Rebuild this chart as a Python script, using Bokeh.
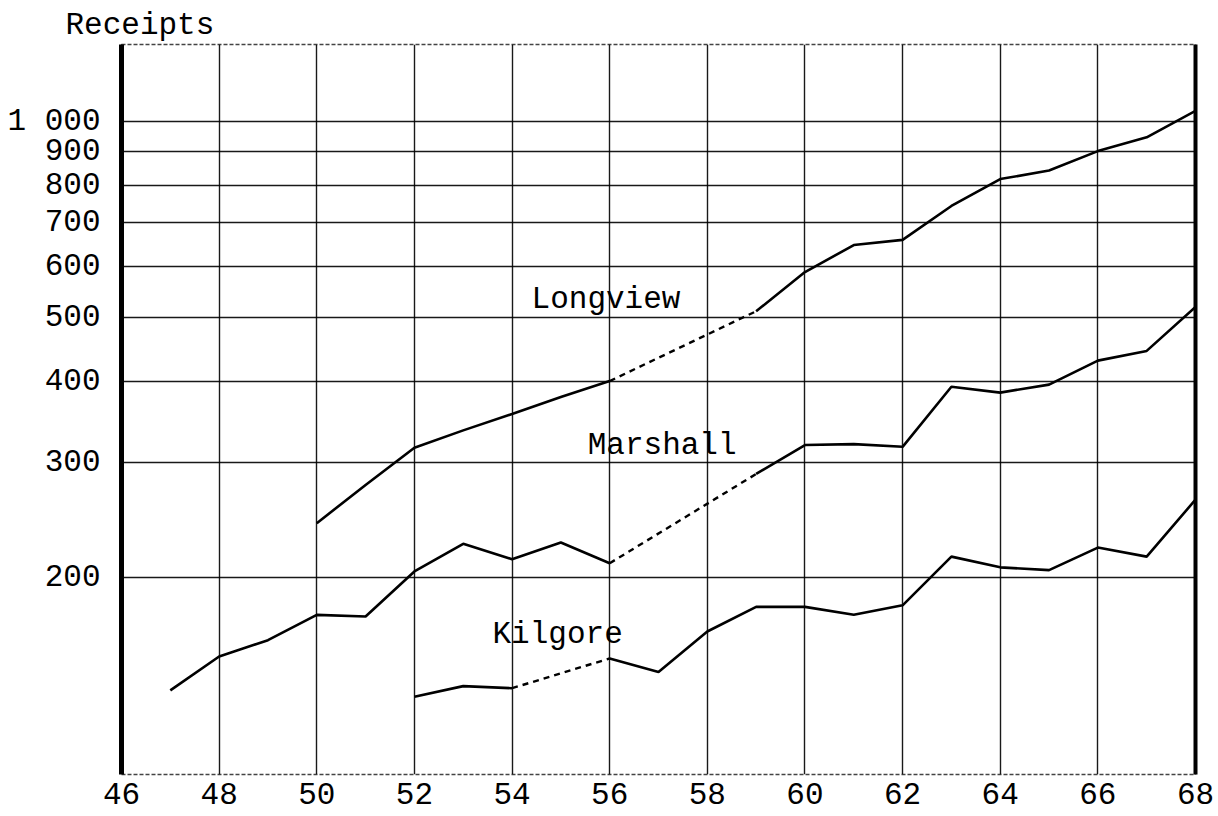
import numpy as np
from bokeh.plotting import figure
from bokeh.models import Range1d, FixedTicker, LogAxis
from bokeh.core.properties import value
from bokeh.embed import file_html
from bokeh.resources import INLINE

# Annual receipts, 1947-1968 (NaN = no figure reported)
years = list(range(47, 69))
nan = np.nan
longview = [nan, nan, nan, 242, 277, 316, 336, 356, 378, 400, nan, nan,
            512, 588, 647, 659, 743, 817, 842, 902, 947, 1040]
marshall = [134, 151, 160, 175, 174, 204, 225, 213, 226, 210, nan, nan,
            288, 319, 320, 317, 392, 384, 395, 430, 445, 520]
kilgore = [nan, nan, nan, nan, nan, 131, 136, 135, nan, 150, 143, 165,
           180, 180, 175, 181, 215, 207, 205, 222, 215, 263]

x_ticks = list(range(46, 69, 2))
y_ticks = [200, 300, 400, 500, 600, 700, 800, 900, 1000]
y_tick_labels = ["200", "300", "400", "500", "600", "700", "800", "900", "1 000"]

series_names = ["Longview", "Marshall", "Kilgore"]

FONT = "Liberation Mono"
FSIZE = "31px"

p = figure(width=1218, height=816,
           x_range=Range1d(46, 68), y_range=Range1d(99.5, 1315),
           y_axis_type="log",
           output_backend="svg", toolbar_location=None,
           min_border_left=121, min_border_right=23,
           min_border_top=44, min_border_bottom=42)

p.background_fill_color = "white"
p.border_fill_color = "white"

# title used as the vertical-axis caption
p.title.text = "Receipts"
p.title.align = "left"
p.title.offset = -56
p.title.text_font = FONT
p.title.text_font_size = FSIZE
p.title.text_font_style = "normal"
p.title.text_color = "black"
p.title.standoff = 4

# axes: labels only, no ticks
for ax in (p.xaxis[0], p.yaxis[0]):
    ax.major_tick_line_color = None
    ax.minor_tick_line_color = None
    ax.major_label_text_font = FONT
    ax.major_label_text_font_size = FSIZE
    ax.major_label_text_color = "black"

p.xaxis.axis_line_color = None
p.xaxis.ticker = FixedTicker(ticks=x_ticks)
p.xaxis.major_label_standoff = 2

# heavy rule down the left edge of the frame
p.yaxis.axis_line_color = "black"
p.yaxis.axis_line_width = 5
p.yaxis.ticker = FixedTicker(ticks=y_ticks)
p.yaxis.major_label_overrides = {t: s for t, s in zip(y_ticks, y_tick_labels)}
p.yaxis.major_label_standoff = 15

# heavy rule down the right edge, no ticks or labels
right_rule = LogAxis(ticker=FixedTicker(ticks=[]),
                     axis_line_color="black", axis_line_width=4,
                     major_tick_line_color=None, minor_tick_line_color=None,
                     major_tick_out=0, minor_tick_out=0,
                     major_label_text_font_size="0px")
p.add_layout(right_rule, "right")

# grid
p.xgrid.ticker = FixedTicker(ticks=x_ticks[1:-1])
p.ygrid.ticker = FixedTicker(ticks=y_ticks)
for g in (p.xgrid[0], p.ygrid[0]):
    g.grid_line_color = "black"
    g.grid_line_width = 1.4
    g.grid_line_alpha = 0.9
    g.minor_grid_line_color = None

# thin dotted top and bottom of the frame
p.outline_line_color = "#444444"
p.outline_line_width = 1.5
p.outline_line_dash = "4 2"

# series: solid where reported, dashed across missing years
for vals in (longview, marshall, kilgore):
    arr = np.array(vals, dtype=float)
    p.line(years, arr, line_color="black", line_width=2.6)
    known = [i for i, v in enumerate(arr) if not np.isnan(v)]
    for a, b in zip(known[:-1], known[1:]):
        if b - a > 1:
            p.line([years[a], years[b]], [arr[a], arr[b]],
                   line_color="black", line_width=2.4, line_dash="6 5")

# series names
name_x = [54.4, 55.55, 53.6]
name_y = [533, 318, 163]
p.text(x=name_x, y=name_y, text=series_names,
       text_font=value(FONT), text_font_size=FSIZE,
       text_align="left", text_baseline="middle", text_color="black")

open("out.html", "w").write(file_html(p, INLINE))
